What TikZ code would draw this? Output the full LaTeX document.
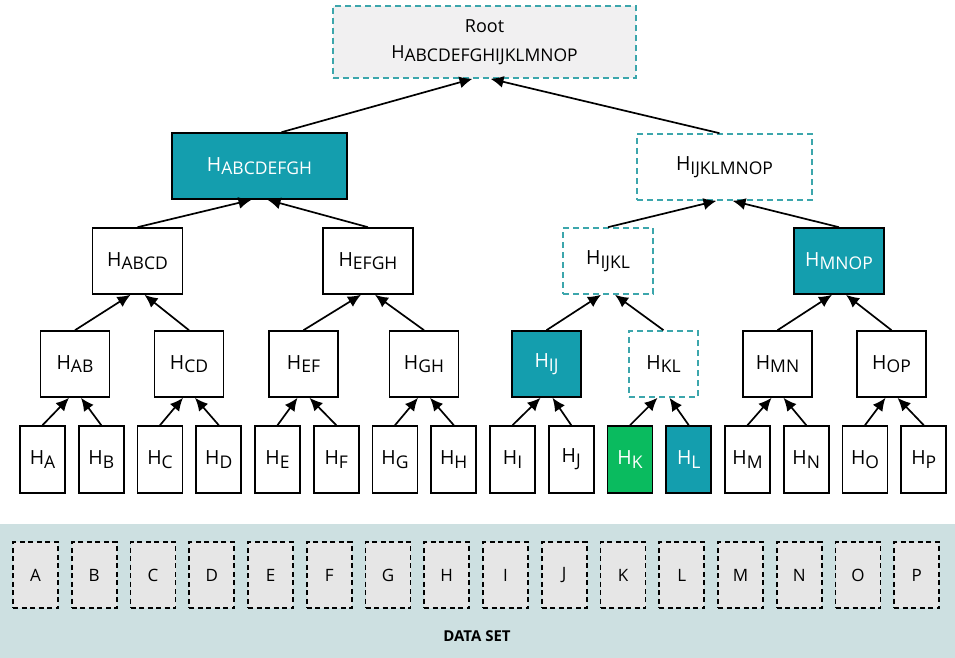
\documentclass[tikz,border=0pt]{standalone}
\usepackage{fontspec}
\setmainfont{Open Sans}
\usetikzlibrary{arrows.meta}
\definecolor{hashteal}{RGB}{20,158,174}
\definecolor{hashgreen}{RGB}{10,187,95}
\definecolor{dashteal}{RGB}{60,166,172}
\definecolor{rootgray}{RGB}{241,240,241}
\definecolor{databar}{RGB}{205,224,225}
\definecolor{datagray}{RGB}{230,230,230}
\newcommand{\hname}[1]{H\raisebox{-0.35ex}{\fontsize{17.5}{18}\selectfont #1}}
\tikzset{
	hashnode/.style = {
		align=center,
		inner sep=0pt,
		text centered,
		font=\fontsize{19.5}{22}\selectfont,
		rectangle,
		draw=black,
		line width=1.6pt
	},
	node_w/.style = {
		hashnode,
		fill=white
	},
	node_t/.style = {
		hashnode,
		fill=hashteal,
		text=white
	},
	node_g/.style = {
		hashnode,
		fill=hashgreen,
		text=white
	},
	node_d/.style = {
		hashnode,
		draw=dashteal,
		dash pattern=on 6pt off 4pt,
		fill=white
	},
	node_data/.style = {
		hashnode,
		font=\fontsize{17}{20}\selectfont,
		fill=datagray,
		dash pattern=on 5pt off 3.5pt,
		minimum width=45pt,
		minimum height=66pt
	},
	wide/.style = {minimum width=175pt, minimum height=66pt},
	mid/.style = {minimum width=90pt, minimum height=66pt},
	pair/.style = {minimum width=69pt, minimum height=66pt},
	leaf/.style = {minimum width=45pt, minimum height=67pt},
}

\begin{document}
\begin{tikzpicture}[x=1pt,y=-1pt,->,>={Latex[length=13pt,width=12pt]},line width=1.7pt]
\useasboundingbox (0,0) rectangle (955,658);
% data set
\fill[databar,draw=none] (0,524) rectangle (955,658);
\node[font=\fontsize{15}{17}\selectfont\bfseries] (dataset) at (477,636) {DATA SET};
\foreach \l [count=\i from 0] in {A,B,C,D,E,F,G,H,I,J,K,L,M,N,O,P}
	\node[node_data] (d\l) at (35.5+58.75*\i,575) {\l};
% tree
\node[node_d,fill=rootgray,minimum width=303pt,minimum height=72pt,font=\fontsize{18}{26}\selectfont] (root) at (484.5,42) {Root\\\hname{ABCDEFGHIJKLMNOP}};
\node[node_t,wide] (hABCDEFGH) at (259.5,166) {\hname{ABCDEFGH}};
\node[node_d,wide] (hIJKLMNOP) at (724.5,167) {\hname{IJKLMNOP}};
\node[node_w,mid] (hABCD) at (137.5,261) {\hname{ABCD}};
\node[node_w,mid] (hEFGH) at (368,261) {\hname{EFGH}};
\node[node_d,mid] (hIJKL) at (608,261) {\hname{IJKL}};
\node[node_t,mid] (hMNOP) at (839,261) {\hname{MNOP}};
\foreach \n/\x/\s in {AB/75/node_w,CD/189/node_w,EF/303.5/node_w,GH/424/node_w,IJ/546.5/node_t,KL/663.5/node_d,MN/777.5/node_w,OP/891.5/node_w}
	\node[\s,pair] (h\n) at (\x,364) {\hname{\n}};
\foreach \l/\s [count=\i from 0] in {A/node_w,B/node_w,C/node_w,D/node_w,E/node_w,F/node_w,G/node_w,H/node_w,I/node_w,J/node_w,K/node_g,L/node_t,M/node_w,N/node_w,O/node_w,P/node_w}
	\node[\s,leaf] (h\l) at (42.5+58.75*\i,459.5) {\hname{\l}};
% hashes up to the root
\foreach \c/\p/\s in {A/AB/-6,B/AB/6,C/CD/-6,D/CD/6,E/EF/-6,F/EF/6,G/GH/-6,H/GH/6,
	I/IJ/-6,J/IJ/6,K/KL/-6,L/KL/6,M/MN/-6,N/MN/6,O/OP/-6,P/OP/6,
	AB/ABCD/-7,CD/ABCD/7,EF/EFGH/-7,GH/EFGH/7,IJ/IJKL/-7,KL/IJKL/7,MN/MNOP/-7,OP/MNOP/7,
	ABCD/ABCDEFGH/-8,EFGH/ABCDEFGH/8,IJKL/IJKLMNOP/-8,MNOP/IJKLMNOP/8}
	\draw (h\c.north) -- ([xshift=\s]h\p.south);
\draw ([xshift=22]hABCDEFGH.north) -- ([xshift=-12]root.south);
\draw ([xshift=-5]hIJKLMNOP.north) -- ([xshift=6]root.south);
\end{tikzpicture}
\end{document}
